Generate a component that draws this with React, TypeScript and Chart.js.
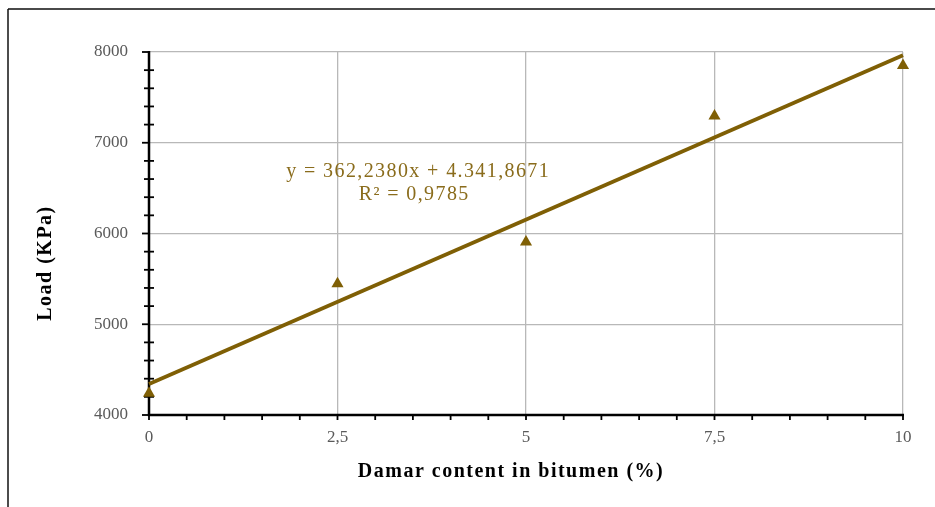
import React, { useEffect, useRef } from "react";
import { Chart, registerables } from "chart.js";

Chart.register(...registerables);

// Measured load versus damar content
const damarContent = [0, 2.5, 5, 7.5, 10];
const loadValues = [4240, 5445, 5905, 7295, 7850];

// Linear trendline coefficients (as printed on the chart)
const trendSlope = 362.238;
const trendIntercept = 4341.8671;
const trendLabel = "y = 362,2380x + 4.341,8671";
const r2Label = "R² = 0,9785";

const xTitle = "Damar content in bitumen (%)";
const yTitle = "Load (KPa)";

const xMin = 0;
const xMax = 10;
const xMajorStep = 2.5;
const xMinorStep = 0.5;
const yMin = 4000;
const yMax = 8000;
const yMajorStep = 1000;
const yMinorStep = 200;

const olive = "#7f5f05";
const oliveText = "#8a6c1c";
const serif = "'Liberation Serif', 'DejaVu Serif', serif";

const trendPoints = [xMin, xMax].map((x) => ({ x, y: trendIntercept + trendSlope * x }));

const decorations = {
  id: "decorations",
  beforeDatasetsDraw(chart: any) {
    const { ctx, chartArea, scales } = chart;
    const xs = scales.x;
    const ys = scales.y;
    ctx.save();
    // axis lines
    ctx.strokeStyle = "#000";
    ctx.lineWidth = 2.5;
    ctx.beginPath();
    ctx.moveTo(chartArea.left, chartArea.top - 1);
    ctx.lineTo(chartArea.left, chartArea.bottom);
    ctx.lineTo(chartArea.right + 1, chartArea.bottom);
    ctx.stroke();
    // y ticks: minor crossing, major outside
    ctx.lineWidth = 1.8;
    for (let v = yMin; v <= yMax + 1e-6; v += yMinorStep) {
      const py = ys.getPixelForValue(v);
      const major = Math.abs(v % yMajorStep) < 1e-6;
      ctx.beginPath();
      if (major) {
        ctx.moveTo(chartArea.left - 7, py);
        ctx.lineTo(chartArea.left, py);
      } else {
        ctx.moveTo(chartArea.left - 5, py);
        ctx.lineTo(chartArea.left + 5, py);
      }
      ctx.stroke();
    }
    // x ticks, outside
    for (let v = xMin; v <= xMax + 1e-6; v += xMinorStep) {
      const px = xs.getPixelForValue(v);
      ctx.beginPath();
      ctx.moveTo(px, chartArea.bottom);
      ctx.lineTo(px, chartArea.bottom + 5);
      ctx.stroke();
    }
    ctx.restore();
  },
  afterDraw(chart: any) {
    const { ctx, scales } = chart;
    ctx.save();
    // outer frame (top and left)
    ctx.strokeStyle = "#4a4a4a";
    ctx.lineWidth = 2;
    ctx.beginPath();
    ctx.moveTo(935, 9);
    ctx.lineTo(8, 9);
    ctx.stroke();
    ctx.strokeStyle = "#111";
    ctx.lineWidth = 1.5;
    ctx.beginPath();
    ctx.moveTo(8, 9);
    ctx.lineTo(8, 507);
    ctx.stroke();

    // axis titles
    ctx.fillStyle = "#000";
    ctx.textAlign = "center";
    ctx.textBaseline = "middle";
    ctx.font = `bold 20px ${serif}`;
    (ctx as any).letterSpacing = "1.5px";
    ctx.fillText(xTitle, 511, 472);
    ctx.save();
    ctx.translate(46, 263);
    ctx.rotate(-Math.PI / 2);
    ctx.fillText(yTitle, 0, 0);
    ctx.restore();

    // trendline equation
    ctx.fillStyle = oliveText;
    ctx.font = `20px ${serif}`;
    (ctx as any).letterSpacing = "1.4px";
    const ex = scales.x.getPixelForValue(3.57);
    ctx.fillText(trendLabel, ex, scales.y.getPixelForValue(6685));
    ctx.fillText(r2Label, ex - 4, scales.y.getPixelForValue(6425));
    ctx.restore();
  },
};

export default function App() {
  const canvasRef = useRef<HTMLCanvasElement | null>(null);

  useEffect(() => {
    const canvas = canvasRef.current;
    if (!canvas) return;
    const chart = new Chart(canvas, {
      type: "scatter",
      data: {
        datasets: [
          {
            label: "Load",
            data: damarContent.map((x, i) => ({ x, y: loadValues[i] })),
            pointStyle: "triangle",
            pointRadius: 7,
            pointHoverRadius: 7,
            backgroundColor: olive,
            borderColor: olive,
            borderWidth: 0,
            showLine: false,
            clip: false,
            order: 0,
          },
          {
            label: "Linear",
            data: trendPoints,
            showLine: true,
            borderColor: olive,
            borderWidth: 3.8,
            pointRadius: 0,
            clip: false,
            order: 1,
          },
        ],
      },
      options: {
        responsive: false,
        animation: false,
        events: [],
        layout: { padding: { top: 52, right: 32, left: 0, bottom: 0 } },
        plugins: {
          legend: { display: false },
          tooltip: { enabled: false },
          title: { display: false },
        },
        scales: {
          x: {
            type: "linear",
            min: xMin,
            max: xMax,
            afterFit: (s: any) => {
              s.height = 92;
            },
            ticks: {
              stepSize: xMajorStep,
              color: "#5a5a5a",
              font: { family: serif, size: 17 },
              padding: 12,
              callback: (v: any) => String(v).replace(".", ","),
            },
            grid: { color: "#b8b8b8", lineWidth: 1.3, drawTicks: false },
            border: { display: false },
          },
          y: {
            type: "linear",
            min: yMin,
            max: yMax,
            afterFit: (s: any) => {
              s.width = 149;
            },
            ticks: {
              stepSize: yMajorStep,
              color: "#5a5a5a",
              font: { family: serif, size: 17 },
              padding: 21,
              callback: (v: any) => String(v),
            },
            grid: { color: "#b8b8b8", lineWidth: 1.3, drawTicks: false },
            border: { display: false },
          },
        },
      },
      plugins: [decorations],
    });
    return () => chart.destroy();
  }, []);

  return (
    <div style={{ position: "absolute", left: 0, top: 0, width: 935, height: 507, background: "#fff" }}>
      <canvas ref={canvasRef} width={935} height={507} />
    </div>
  );
}
